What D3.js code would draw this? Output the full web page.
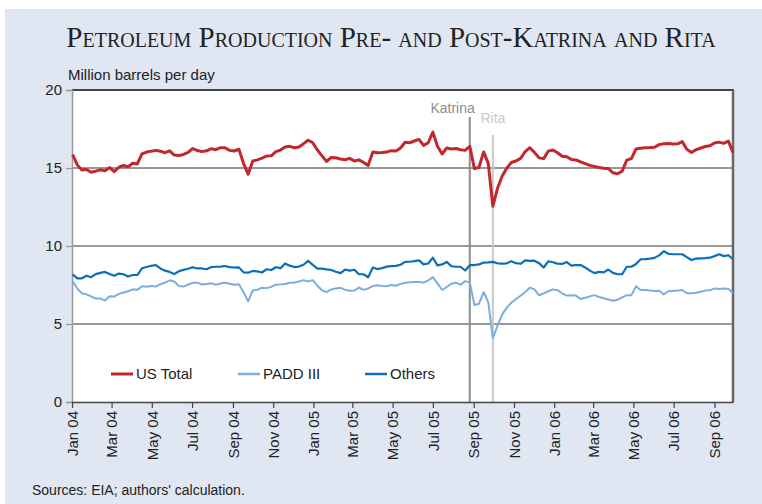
<!DOCTYPE html>
<html>
<head>
<meta charset="utf-8">
<script src="https://cdn.jsdelivr.net/npm/d3@7"></script>
<style>
  html, body { margin: 0; padding: 0; background: #ffffff; }
  svg { display: block; }
</style>
</head>
<body>
<svg id="chart" width="762" height="504"></svg>
<script>
// ---------- DATA ----------
const startWeek = "2004-01-02"; // weekly observations (Fridays)
const seriesNames = ["US Total", "PADD III", "Others"];
const usTotal = [
15.85,15.2,14.87,14.9,14.73,14.8,14.88,14.83,15.03,14.77,
15.05,15.16,15.08,15.3,15.26,15.9,16.02,16.08,16.13,16.08,
15.98,16.1,15.83,15.8,15.87,16.0,16.25,16.12,16.05,16.1,
16.24,16.17,16.3,16.3,16.13,16.09,16.2,15.3,14.6,15.45,
15.52,15.63,15.77,15.78,16.05,16.15,16.35,16.39,16.3,16.35,
16.56,16.78,16.62,16.15,15.78,15.42,15.68,15.66,15.58,15.53,
15.62,15.45,15.52,15.35,15.17,16.03,15.98,15.99,16.02,16.11,
16.09,16.28,16.65,16.62,16.73,16.83,16.45,16.62,17.3,16.4,
15.9,16.28,16.22,16.25,16.17,16.13,16.39,14.96,15.05,16.03,
15.3,12.55,13.7,14.47,14.99,15.35,15.45,15.62,16.05,16.3,
16.0,15.65,15.6,16.08,16.15,15.98,15.75,15.72,15.55,15.52,
15.39,15.28,15.17,15.1,15.03,14.99,14.97,14.69,14.63,14.8,
15.5,15.6,16.22,16.26,16.3,16.31,16.33,16.5,16.56,16.57,
16.54,16.55,16.69,16.2,16.0,16.17,16.28,16.38,16.43,16.6,
16.66,16.58,16.72,16.0
];
const padd3 = [
7.76,7.27,6.97,6.9,6.77,6.63,6.64,6.5,6.78,6.76,
6.93,7.02,7.1,7.22,7.19,7.42,7.39,7.43,7.4,7.55,
7.65,7.8,7.72,7.44,7.4,7.53,7.64,7.65,7.53,7.57,
7.61,7.52,7.6,7.65,7.58,7.51,7.55,7.05,6.45,7.15,
7.19,7.33,7.3,7.38,7.52,7.54,7.56,7.64,7.66,7.72,
7.81,7.72,7.81,7.45,7.16,7.04,7.22,7.28,7.32,7.2,
7.13,7.14,7.34,7.19,7.28,7.43,7.49,7.44,7.42,7.5,
7.45,7.57,7.64,7.67,7.7,7.7,7.65,7.8,8.0,7.6,
7.18,7.37,7.58,7.65,7.52,7.75,7.67,6.22,6.3,7.05,
6.4,4.1,4.88,5.6,6.05,6.36,6.6,6.81,7.05,7.32,
7.22,6.84,6.96,7.1,7.22,7.17,6.97,6.82,6.85,6.82,
6.6,6.68,6.77,6.85,6.73,6.65,6.57,6.49,6.55,6.7,
6.85,6.85,7.41,7.18,7.18,7.15,7.12,7.13,6.9,7.1,
7.12,7.14,7.18,6.97,6.97,7.0,7.07,7.14,7.16,7.28,
7.25,7.27,7.26,6.97
];
const others = [
8.18,7.93,7.93,8.09,8.0,8.2,8.28,8.34,8.21,8.09,
8.23,8.19,8.04,8.14,8.14,8.57,8.65,8.73,8.78,8.56,
8.42,8.34,8.2,8.38,8.47,8.54,8.64,8.56,8.56,8.51,
8.65,8.67,8.68,8.72,8.65,8.62,8.63,8.31,8.29,8.4,
8.37,8.3,8.51,8.46,8.64,8.58,8.88,8.74,8.65,8.68,
8.8,9.05,8.79,8.55,8.55,8.5,8.46,8.35,8.26,8.49,
8.42,8.48,8.19,8.19,8.0,8.62,8.52,8.58,8.68,8.71,
8.73,8.8,8.98,8.99,9.03,9.08,8.82,8.88,9.25,8.76,
8.82,8.98,8.7,8.67,8.67,8.43,8.77,8.78,8.82,8.94,
8.95,8.98,8.89,8.87,8.89,9.02,8.9,8.86,9.08,9.05,
9.06,8.9,8.62,9.02,8.96,8.87,8.85,8.97,8.74,8.78,
8.78,8.62,8.42,8.26,8.34,8.31,8.49,8.28,8.19,8.19,
8.67,8.67,8.85,9.15,9.16,9.19,9.24,9.4,9.66,9.5,
9.47,9.47,9.47,9.29,9.1,9.19,9.21,9.22,9.25,9.35,
9.47,9.35,9.41,9.15
];
const yTicks = [0, 5, 10, 15, 20];
const eventNames = ["Katrina", "Rita"];
const eventDates = ["2005-08-26", "2005-09-30"];
const xDomain = ["2004-01-01", "2006-09-29"];
const titleText = "Petroleum Production Pre- and Post-Katrina and Rita";
const yLabel = "Million barrels per day";
const sourceText = "Sources: EIA; authors' calculation.";

// ---------- DRAW ----------
const svg = d3.select("#chart");
const W = 762, H = 504;
const m = {left: 72, right: 733, top: 90, bottom: 402};
const colors = ["#c1272d", "#7badde", "#0b6fb8"];
const widths = [3, 2, 2.2];

const parse = d3.utcParse("%Y-%m-%d");
const t0 = parse(startWeek);
const dates = usTotal.map((_, i) => d3.utcDay.offset(t0, 7 * i));

const x = d3.scaleUtc().domain(xDomain.map(parse)).range([m.left, m.right]);
const y = d3.scaleLinear().domain([0, 20]).range([m.bottom, m.top]);

// background
svg.append("rect").attr("x", 0).attr("y", 0).attr("width", W).attr("height", H).attr("fill", "#ffffff");
svg.append("rect").attr("x", 5).attr("y", 9).attr("width", W - 5).attr("height", H - 9).attr("fill", "#e0e7f3");

// plot area
svg.append("rect").attr("x", m.left).attr("y", m.top)
  .attr("width", m.right - m.left).attr("height", m.bottom - m.top).attr("fill", "#ffffff");

// title
svg.append("text").attr("x", 391).attr("y", 47).attr("text-anchor", "middle")
  .attr("font-family", "Liberation Serif, Times New Roman, serif")
  .attr("font-size", 29).style("font-variant", "small-caps").attr("fill", "#222")
  .text(titleText);

// y label
svg.append("text").attr("x", 68).attr("y", 80)
  .attr("font-family", "Liberation Sans, Arial, sans-serif").attr("font-size", 15).attr("fill", "#222")
  .text(yLabel);

// gridlines
svg.append("g").selectAll("line").data(yTicks.filter(d => d > 0 && d < 20)).join("line")
  .attr("x1", m.left).attr("x2", m.right).attr("y1", d => y(d)).attr("y2", d => y(d))
  .attr("stroke", "#333").attr("stroke-width", 1.2);

// top border & right border
svg.append("line").attr("x1", m.left).attr("x2", m.right + 1).attr("y1", m.top).attr("y2", m.top)
  .attr("stroke", "#444").attr("stroke-width", 2);
svg.append("line").attr("x1", m.right).attr("x2", m.right).attr("y1", m.top).attr("y2", m.bottom)
  .attr("stroke", "#666").attr("stroke-width", 2.5);

// y axis
const yAxis = svg.append("g").attr("transform", `translate(${m.left},0)`)
  .call(d3.axisLeft(y).tickValues(yTicks).tickSize(6).tickPadding(4));
yAxis.select(".domain").attr("stroke", "#999").attr("stroke-width", 1.5);
yAxis.selectAll(".tick line").attr("stroke", "#999").attr("stroke-width", 1.2);
yAxis.selectAll("text").attr("font-family", "Liberation Sans, Arial, sans-serif")
  .attr("font-size", 15).attr("fill", "#222");

// event lines
eventDates.forEach((ds, i) => {
  const ex = x(parse(ds));
  const col = i === 0 ? "#8d8d8d" : "#c9c9c9";
  const top = i === 0 ? 117 : 135;
  svg.append("line").attr("x1", ex).attr("x2", ex).attr("y1", top).attr("y2", m.bottom)
    .attr("stroke", col).attr("stroke-width", 2);
  svg.append("text")
    .attr("x", i === 0 ? ex + 5 : ex)
    .attr("y", i === 0 ? 113 : 123)
    .attr("text-anchor", i === 0 ? "end" : "middle")
    .attr("font-family", "Liberation Sans, Arial, sans-serif").attr("font-size", 14)
    .attr("fill", col).text(eventNames[i]);
});

// x axis
const xAxis = svg.append("g").attr("transform", `translate(0,${m.bottom})`)
  .call(d3.axisBottom(x).ticks(d3.utcMonth.every(2)).tickFormat(d3.utcFormat("%b %y")).tickSize(6).tickSizeOuter(0));
xAxis.select(".domain").attr("stroke", "#444").attr("stroke-width", 1.5);
xAxis.selectAll(".tick line").attr("stroke", "#444").attr("stroke-width", 1.2);
xAxis.selectAll("text")
  .attr("font-family", "Liberation Sans, Arial, sans-serif").attr("font-size", 15).attr("fill", "#222")
  .attr("transform", "rotate(-90)").attr("text-anchor", "end")
  .attr("x", -9).attr("y", 0).attr("dy", "0.35em");

// lines
const allSeries = [usTotal, padd3, others];
const lineGen = d3.line().x((d, i) => x(dates[i])).y(d => y(d));
// draw order: PADD III, Others, US Total
[1, 2, 0].forEach(si => {
  svg.append("path").datum(allSeries[si]).attr("d", lineGen)
    .attr("fill", "none").attr("stroke", colors[si]).attr("stroke-width", widths[si])
    .attr("stroke-linejoin", "round");
});

// legend
const legX = [111, 238, 365];
seriesNames.forEach((n, i) => {
  const g = svg.append("g").attr("transform", `translate(${legX[i]},374)`);
  g.append("line").attr("x1", 0).attr("x2", 22).attr("y1", 0).attr("y2", 0)
    .attr("stroke", colors[i]).attr("stroke-width", i === 0 ? 3 : 2.5);
  g.append("text").attr("x", 25).attr("y", 0).attr("dy", "0.35em")
    .attr("font-family", "Liberation Sans, Arial, sans-serif").attr("font-size", 15).attr("fill", "#222")
    .text(n);
});

// source
svg.append("text").attr("x", 32).attr("y", 495)
  .attr("font-family", "Liberation Sans, Arial, sans-serif").attr("font-size", 14).attr("fill", "#222")
  .text(sourceText);
</script>
</body>
</html>
